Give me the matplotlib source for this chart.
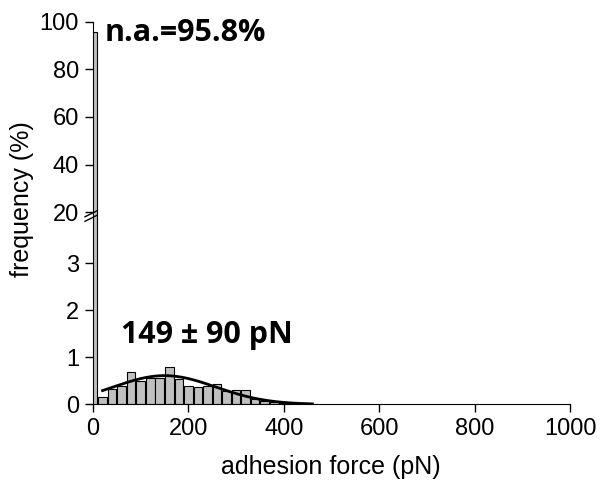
import numpy as np
import matplotlib
matplotlib.use("Agg")
import matplotlib.pyplot as plt

# histogram of adhesion forces, 20 pN bins (bin 0 = no adhesion)
bin_centers = [0, 20, 40, 60, 80, 100, 120, 140, 160, 180, 200, 220, 240,
               260, 280, 300, 320, 340, 360, 380, 400, 420, 440, 460]
freq = [95.8, 0.16, 0.32, 0.40, 0.68, 0.50, 0.55, 0.55, 0.80, 0.54, 0.40, 0.37,
        0.40, 0.43, 0.28, 0.30, 0.30, 0.11, 0.06, 0.04, 0.03, 0.02, 0.02, 0.01]

# gaussian fit parameters (center, width, amplitude) and fit range
fit_center = 150
fit_sigma = 107
fit_amp = 0.61
fit_range = (20, 460)

na_label = "n.a.=95.8%"
force_label = "149 ± 90 pN"

plt.rcParams['font.family'] = ['Liberation Sans', 'DejaVu Sans']

W, H = 602, 482
fig = plt.figure(figsize=(W / 100, H / 100), dpi=100)

left = 93 / W
width = (570 - 93) / W
y0 = 404.3        # pixel row of frequency 0
brk = 216.3       # pixel row of the axis break
top = 21.7        # pixel row of 100 %

ax_lo = fig.add_axes([left, 1 - y0 / H, width, (y0 - brk) / H])
ax_hi = fig.add_axes([left, 1 - brk / H, width, (brk - top) / H])

bar_kw = dict(width=18, color="#c0c0c0", edgecolor="black", linewidth=0.8)
for ax in (ax_lo, ax_hi):
    ax.bar(bin_centers, freq, **bar_kw)
    ax.set_xlim(0, 1000)
    for s in ("top", "right"):
        ax.spines[s].set_visible(False)
    ax.tick_params(direction="out", length=6, width=1, labelsize=17, pad=4)

ax_lo.set_ylim(0, 4.0)
ax_lo.set_yticks([0, 1, 2, 3])
ax_lo.set_xticks([0, 200, 400, 600, 800, 1000])

ax_hi.set_ylim(18.3, 100)
ax_hi.set_yticks([20, 40, 60, 80, 100])
ax_hi.spines["bottom"].set_visible(False)
ax_hi.tick_params(axis="x", bottom=False, labelbottom=False)

# fitted gaussian
xf = np.linspace(fit_range[0], fit_range[1], 200)
yf = fit_amp * np.exp(-(xf - fit_center) ** 2 / (2 * fit_sigma ** 2))
ax_lo.plot(xf, yf, color="black", lw=2.0)

# break marks on the y axis
for dy in (-2.5, 2.0):
    yb = 1 - (brk + dy) / H
    fig.add_artist(plt.Line2D([left - 8 / W, left + 4 / W],
                              [yb - 3 / H, yb + 3 / H],
                              transform=fig.transFigure, color="black", lw=1))

bold_fam = ["Open Sans", "DejaVu Sans"]
fig.text(105 / W, 1 - 41 / H, na_label, fontsize=22, fontweight="bold",
         family=bold_fam, ha="left", va="baseline")
fig.text(121 / W, 1 - 343 / H, force_label, fontsize=22, fontweight="bold",
         family=bold_fam, ha="left", va="baseline")

fig.text(331 / W, 1 - 467 / H, "adhesion force (pN)", fontsize=18,
         ha="center", va="center")
fig.text(22 / W, 1 - 199 / H, "frequency (%)", fontsize=18, rotation=90,
         ha="center", va="center")

fig.savefig("out.png", dpi=100)
